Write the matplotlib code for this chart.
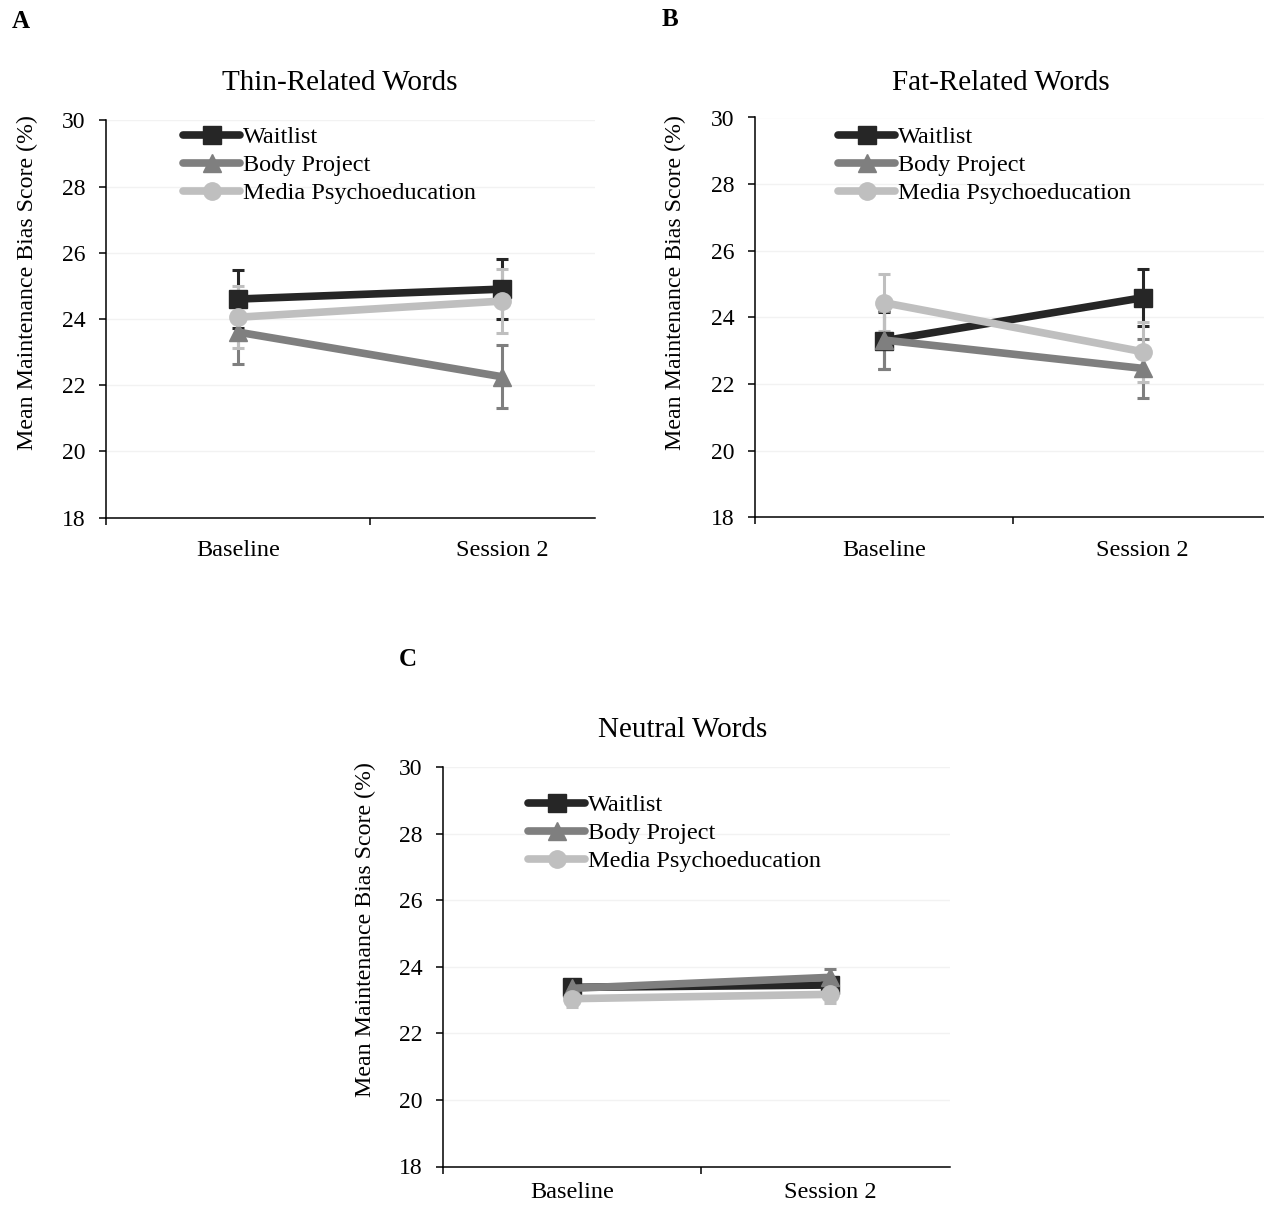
import matplotlib
matplotlib.use("Agg")
import matplotlib.pyplot as plt
from matplotlib.ticker import FixedLocator, NullFormatter

plt.rcParams["font.family"] = ["Liberation Serif", "DejaVu Serif"]

W, H = 1264, 1206

phases = ["Baseline", "Session 2"]
groups = ["Waitlist", "Body Project", "Media Psychoeducation"]
colors = ["#262626", "#7f7f7f", "#bfbfbf"]
markers = ["s", "^", "o"]
yticks = [18, 20, 22, 24, 26, 28, 30]
ylabel = "Mean Maintenance Bias Score (%)"

# thin-related words
thin_waitlist = [24.60, 24.90]
thin_waitlist_err = [0.88, 0.91]
thin_body = [23.60, 22.25]
thin_body_err = [0.96, 0.95]
thin_media = [24.05, 24.54]
thin_media_err = [0.94, 0.96]

# fat-related words
fat_waitlist = [23.30, 24.59]
fat_waitlist_err = [0.85, 0.86]
fat_body = [23.32, 22.47]
fat_body_err = [0.88, 0.89]
fat_media = [24.44, 22.97]
fat_media_err = [0.86, 0.90]

# neutral words
neutral_waitlist = [23.38, 23.45]
neutral_waitlist_err = [0.20, 0.20]
neutral_body = [23.35, 23.68]
neutral_body_err = [0.22, 0.25]
neutral_media = [23.04, 23.17]
neutral_media_err = [0.26, 0.27]


def fig_box(left, top, right, bottom):
    return [left / W, 1 - bottom / H, (right - left) / W, (bottom - top) / H]


def panel(ax, series, errs, xmax, xpad=16):
    x = list(range(len(phases)))
    for i, (vals, err) in enumerate(zip(series, errs)):
        ax.errorbar(x, vals, yerr=err, fmt="none", ecolor=colors[i], elinewidth=2.2,
                    capsize=4.5, capthick=2.2, zorder=2 + i)
    for i, vals in enumerate(series):
        ax.plot(x, vals, color=colors[i], lw=5.5, marker=markers[i], markersize=12.5,
                solid_capstyle="round", label=groups[i], zorder=5 + i)
    ax.set_xlim(-0.5, xmax)
    ax.set_ylim(18, 30)
    ax.set_yticks(yticks)
    ax.xaxis.set_major_locator(FixedLocator([-0.5, 0.5, 1.5]))
    ax.xaxis.set_major_formatter(NullFormatter())
    ax.xaxis.set_minor_locator(FixedLocator(x))
    ax.set_xticklabels(phases, minor=True)
    ax.tick_params(axis="x", which="minor", length=0, pad=xpad, labelsize=17.5)
    ax.tick_params(axis="x", which="major", length=5, width=1.1, direction="out")
    ax.tick_params(axis="y", length=5, width=1.1, pad=10, labelsize=17)
    for y in yticks[1:]:
        ax.axhline(y, color="#f2f2f2", lw=1, zorder=0)
    for s in ("top", "right"):
        ax.spines[s].set_visible(False)
    for s in ("left", "bottom"):
        ax.spines[s].set_linewidth(1.1)


fig = plt.figure(figsize=(W / 100, H / 100), dpi=100)

axA = fig.add_axes(fig_box(106, 120.3, 595, 517.5))
panel(axA, [thin_waitlist, thin_body, thin_media],
      [thin_waitlist_err, thin_body_err, thin_media_err], 1.35)
axB = fig.add_axes(fig_box(755, 117.5, 1264, 517.3))
panel(axB, [fat_waitlist, fat_body, fat_media],
      [fat_waitlist_err, fat_body_err, fat_media_err], 1.47)
axC = fig.add_axes(fig_box(443, 766.9, 950, 1166.5))
panel(axC, [neutral_waitlist, neutral_body, neutral_media],
      [neutral_waitlist_err, neutral_body_err, neutral_media_err], 1.465, xpad=11)

# legends, placed in figure pixels
for ax, lx, ly in [(axA, 183, 126), (axB, 838, 126), (axC, 528, 794)]:
    ax.legend(loc="upper left", bbox_to_anchor=(lx / W, 1 - ly / H),
              bbox_transform=fig.transFigure, frameon=False, fontsize=17.5,
              handlelength=2.35, handletextpad=0.12, labelspacing=0.25,
              borderpad=0, borderaxespad=0)

# titles
for txt, cx, cy in [("Thin-Related Words", 340, 83), ("Fat-Related Words", 1001, 83),
                    ("Neutral Words", 683, 730)]:
    fig.text(cx / W, 1 - cy / H, txt, ha="center", va="center", fontsize=21)

# y labels
for cx, cy in [(27, 283), (675, 283), (365, 930)]:
    fig.text(cx / W, 1 - cy / H, ylabel, ha="center", va="center",
             rotation=90, fontsize=17.2)

# panel letters
for txt, cx, cy in [("A", 21, 22), ("B", 670, 20), ("C", 408, 660)]:
    fig.text(cx / W, 1 - cy / H, txt, ha="center", va="center",
             fontsize=18, fontweight="bold")

fig.savefig("out.png", dpi=100)
plt.close(fig)
